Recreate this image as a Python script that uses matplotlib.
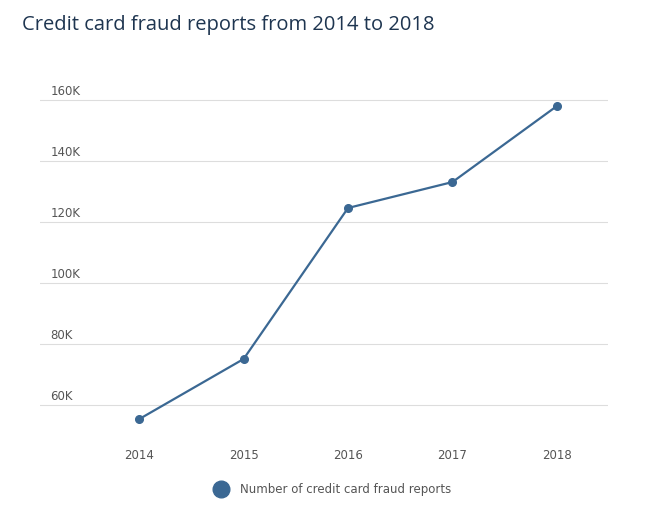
import matplotlib.pyplot as plt

# Data
years = [2014, 2015, 2016, 2017, 2018]
reports = [55400, 75100, 124600, 133100, 158000]
y_ticks = [60000, 80000, 100000, 120000, 140000, 160000]
y_labels = ['60K', '80K', '100K', '120K', '140K', '160K']

LINE = '#3b6893'
TEXT = '#555555'

fig = plt.figure(figsize=(6.47, 5.10), dpi=100)
ax = fig.add_axes([40 / 647, 1 - 432 / 510, 568 / 647, 342 / 510])

ax.plot(years, reports, color=LINE, lw=1.6, marker='o', ms=5.5, zorder=3)

ax.set_xlim(2013.05, 2018.49)
ax.set_ylim(51500, 163600)
for t, lab in zip(y_ticks, y_labels):
    ax.axhline(t, color='#dddddd', lw=0.8, zorder=1)
    ax.text(2013.15, t + 1000, lab, color=TEXT, fontsize=8.5, va='bottom', ha='left')

ax.set_yticks([])
ax.set_xticks(years)
ax.set_xticklabels([str(y) for y in years], color=TEXT, fontsize=8.5)
ax.tick_params(axis='x', length=0, pad=12)
for s in ax.spines.values():
    s.set_visible(False)

fig.text(22 / 647, 1 - 25 / 510, 'Credit card fraud reports from 2014 to 2018',
         fontsize=14.5, color='#1e3550', va='center', ha='left', family='Open Sans')

# legend
fig.lines.append(plt.Line2D([221 / 647], [1 - 490 / 510], marker='o', ms=12,
                            color=LINE, transform=fig.transFigure))
fig.text(240 / 647, 1 - 490 / 510, 'Number of credit card fraud reports',
         fontsize=8.5, color=TEXT, va='center', ha='left')

fig.savefig('out.png', dpi=100)
